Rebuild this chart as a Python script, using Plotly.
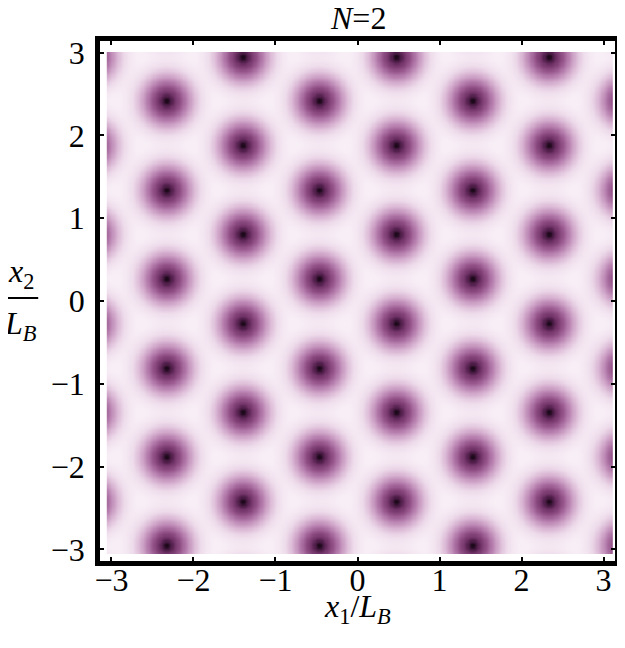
import numpy as np
import plotly.graph_objects as go

# Vortex lattice (x1/L_B, x2/L_B)
cols_a = [-3.26, -1.40, 0.47, 2.33]          # columns of type A
rows_a = [-3.49, -2.42, -1.34, -0.27, 0.81, 1.88, 2.95, 4.03]
cols_b = [-2.33, -0.47, 1.40, 3.26]          # columns of type B
rows_b = [-4.03, -2.95, -1.88, -0.81, 0.27, 1.34, 2.42, 3.49]
core_size = 0.30                              # vortex core radius
tick_vals = [-3, -2, -1, 0, 1, 2, 3]
tick_text = ["\u22123", "\u22122", "\u22121", "0", "1", "2", "3"]

vx, vy = [], []
for cx in cols_a:
    for cy in rows_a:
        vx.append(cx); vy.append(cy)
for cx in cols_b:
    for cy in rows_b:
        vx.append(cx); vy.append(cy)

gx = np.linspace(-3.05, 3.10, 420)
gy = np.linspace(-3.05, 3.00, 420)
X, Y = np.meshgrid(gx, gy)
Z = np.ones_like(X)
for cx, cy in zip(vx, vy):
    r2 = (X - cx) ** 2 + (Y - cy) ** 2
    Z *= 1 - np.exp(-r2 / core_size ** 2)

colorscale = [
    [0.00, "#1a0818"],
    [0.02, "#461941"],
    [0.10, "#733469"],
    [0.30, "#9a5a90"],
    [0.50, "#bb85b3"],
    [0.70, "#d9b5d3"],
    [0.85, "#eddaea"],
    [0.93, "#f5e9f3"],
    [1.00, "#fcf8fb"],
]

fig = go.Figure(go.Heatmap(x=gx, y=gy, z=Z, colorscale=colorscale, zmin=0, zmax=1,
                           showscale=False, zsmooth="best", hoverinfo="skip"))

FAM = "Liberation Serif, Times New Roman, serif"
font = dict(family=FAM, size=32, color="black")
axis_common = dict(showgrid=False, zeroline=False, showline=True, linewidth=4.5,
                   linecolor="black", mirror="ticks", ticks="inside", ticklen=4,
                   tickwidth=2, tickcolor="black", tickvals=tick_vals,
                   ticktext=tick_text, tickfont=font, automargin=False)

# page body has an 8px margin, so the figure is sized to fit the window
fig.update_layout(
    width=609, height=632,
    margin=dict(l=92, r=2, t=33, b=79),
    paper_bgcolor="white", plot_bgcolor="white",
    xaxis=dict(range=[-3.14, 3.14], ticklabelstandoff=-13, **axis_common),
    yaxis=dict(range=[-3.14, 3.14], ticklabelstandoff=4, **axis_common),
    font=font,
    annotations=[
        dict(text="<i>N</i>=2", x=0.5, y=1.044, xref="paper", yref="paper",
             showarrow=False, font=font, xanchor="center", yanchor="middle"),
        dict(text="<i>x</i><sub>1</sub>/<i>L</i><sub><i>B</i></sub>", x=0.5, y=-0.091,
             xref="paper", yref="paper", showarrow=False, font=font,
             xanchor="center", yanchor="middle"),
        dict(text="<i>x</i><sub>2</sub>", x=-0.154, y=0.552, xref="paper", yref="paper",
             showarrow=False, font=font, xanchor="center", yanchor="middle"),
        dict(text="<i>L</i><sub><i>B</i></sub>", x=-0.154, y=0.452, xref="paper",
             yref="paper", showarrow=False, font=font, xanchor="center", yanchor="middle"),
    ],
    shapes=[dict(type="line", xref="paper", yref="paper", x0=-0.188, x1=-0.120,
                 y0=0.506, y1=0.506, line=dict(color="black", width=2))],
)

fig.write_html("out.html")
